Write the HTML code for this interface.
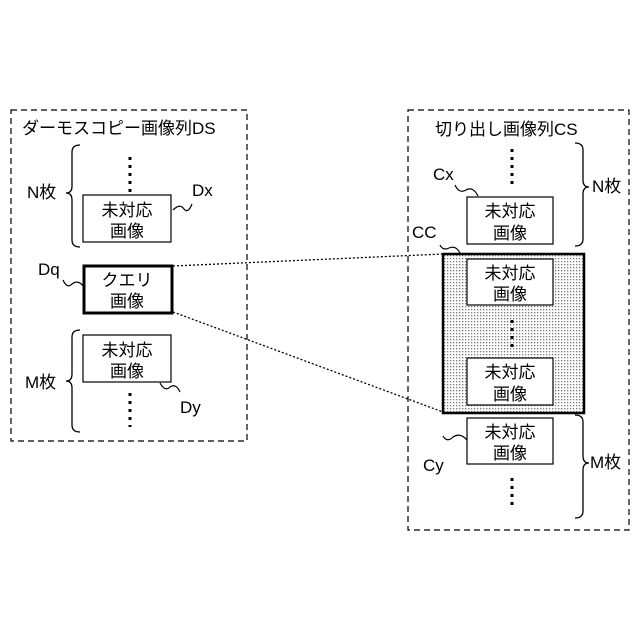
<!DOCTYPE html>
<html><head><meta charset="utf-8"><style>
html,body{margin:0;padding:0;background:#fff;width:640px;height:640px;overflow:hidden}
text{font-family:"Liberation Sans","Noto Sans CJK JP",sans-serif;font-size:17px;fill:#000}
</style></head><body>
<svg width="640" height="640" viewBox="0 0 640 640" xmlns="http://www.w3.org/2000/svg">
<defs>
<pattern id="dots" width="3" height="3" patternUnits="userSpaceOnUse">
<rect width="3" height="3" fill="#fff"/><rect width="1.3" height="1.3" fill="#777"/>
</pattern>
</defs>
<g fill="none" stroke="#000" stroke-width="1.2">
<rect x="11" y="110" width="236" height="331" stroke-dasharray="6,4"/>
<rect x="408" y="110" width="221" height="420" stroke-dasharray="6,4"/>
</g>
<text x="22" y="134">ダーモスコピー画像列DS</text>
<text x="435" y="135">切り出し画像列CS</text>
<g fill="none" stroke="#000" stroke-width="1.3">
<path d="M80,145 Q72,145 72,152 L72,186 Q72,193 66,193 Q72,193 72,200 L72,240 Q72,247 80,247"/>
<path d="M80,330 Q72,330 72,337 L72,374 Q72,381 66,381 Q72,381 72,388 L72,425 Q72,432 80,432"/>
<path d="M575,143 Q583,143 583,150 L583,180 Q583,187 589,187 Q583,187 583,194 L583,239 Q583,246 575,246"/>
<path d="M575,415 Q583,415 583,422 L583,456 Q583,463 589,463 Q583,463 583,470 L583,511 Q583,518 575,518"/>
</g>
<text x="27" y="198">N枚</text>
<text x="25" y="388">M枚</text>
<text x="592" y="192">N枚</text>
<text x="590" y="468">M枚</text>
<g stroke="#000" stroke-width="3" stroke-dasharray="3,5">
<line x1="130" y1="157" x2="130" y2="192"/>
<line x1="130" y1="393" x2="130" y2="427"/>
<line x1="512" y1="149" x2="512" y2="184"/>
<line x1="512" y1="478" x2="512" y2="507"/>
</g>
<g stroke="#000" stroke-width="1.3" stroke-dasharray="2,2" fill="none">
<line x1="173" y1="266" x2="443" y2="254"/>
<line x1="173" y1="312" x2="443" y2="412"/>
</g>
<rect x="83" y="195" width="88" height="47" fill="#fff" stroke="#000" stroke-width="1.2"/>
<text x="127" y="216" text-anchor="middle">未対応</text><text x="127" y="237" text-anchor="middle">画像</text>
<rect x="84" y="266" width="88" height="47" fill="#fff" stroke="#000" stroke-width="3"/>
<text x="127" y="286" text-anchor="middle">クエリ</text><text x="127" y="307" text-anchor="middle">画像</text>
<rect x="83" y="335" width="88" height="47" fill="#fff" stroke="#000" stroke-width="1.2"/>
<text x="127" y="356" text-anchor="middle">未対応</text><text x="127" y="377" text-anchor="middle">画像</text>
<rect x="443" y="254" width="141" height="159" fill="url(#dots)" stroke="#000" stroke-width="2.5"/>
<g stroke="#000" stroke-width="3" stroke-dasharray="3,5">
<line x1="512" y1="320" x2="512" y2="352"/>
</g>
<g fill="#fff" stroke="#000" stroke-width="1.2">
<rect x="467" y="197" width="86" height="47"/>
<rect x="467" y="259" width="86" height="46"/>
<rect x="467" y="358" width="86" height="47"/>
<rect x="467" y="418" width="86" height="46"/>
</g>
<text x="510" y="217" text-anchor="middle">未対応</text><text x="510" y="239" text-anchor="middle">画像</text>
<text x="510" y="279" text-anchor="middle">未対応</text><text x="510" y="300" text-anchor="middle">画像</text>
<text x="510" y="378" text-anchor="middle">未対応</text><text x="510" y="400" text-anchor="middle">画像</text>
<text x="510" y="438" text-anchor="middle">未対応</text><text x="510" y="459" text-anchor="middle">画像</text>
<g fill="none" stroke="#000" stroke-width="1.2">
<path d="M173,210 Q180,203 184,209 Q188,214 192,204"/>
<path d="M84,287 Q78,279 72,284 Q67,289 63,280"/>
<path d="M160,383 Q165,392 170,387 Q176,383 180,392"/>
<path d="M478,196 Q473,186 466,190 Q459,194 455,185"/>
<path d="M460,253 Q456,245 449,248 Q443,251 440,245"/>
<path d="M467,440 Q460,432 453,437 Q447,443 443,436"/>
</g>
<text x="192" y="196">Dx</text>
<text x="38" y="275">Dq</text>
<text x="180" y="413">Dy</text>
<text x="433" y="180">Cx</text>
<text x="412" y="238">CC</text>
<text x="423" y="471">Cy</text>
</svg>
</body></html>
